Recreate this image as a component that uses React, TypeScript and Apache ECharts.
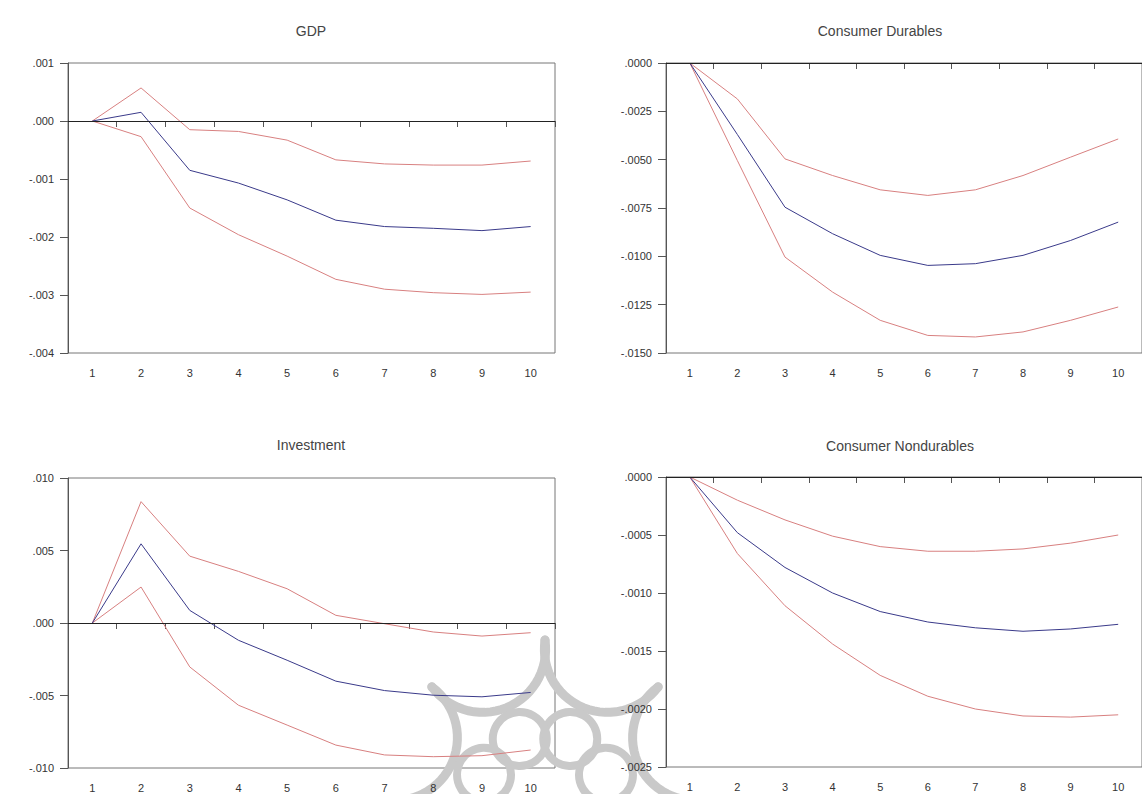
import React, { useEffect, useRef } from "react";
import * as echarts from "echarts";

const periods = ["1", "2", "3", "4", "5", "6", "7", "8", "9", "10"];

const gdpMid = [0, 0.00015, -0.00085, -0.00107, -0.00136, -0.00171, -0.00182, -0.00185, -0.00189, -0.00182];
const gdpUp = [0, 0.00057, -0.00015, -0.00018, -0.00033, -0.00067, -0.00074, -0.00076, -0.00076, -0.00069];
const gdpLo = [0, -0.00027, -0.0015, -0.00196, -0.00233, -0.00273, -0.0029, -0.00296, -0.00299, -0.00295];

const cdMid = [0, -0.0037, -0.00746, -0.00883, -0.00995, -0.01047, -0.01038, -0.00995, -0.00918, -0.00823];
const cdUp = [0, -0.00186, -0.00496, -0.00582, -0.00656, -0.00685, -0.00656, -0.00582, -0.00487, -0.00393];
const cdLo = [0, -0.00505, -0.01004, -0.01185, -0.01331, -0.01409, -0.01417, -0.01391, -0.01331, -0.01262];

const invMid = [0, 0.00546, 0.00087, -0.00119, -0.00257, -0.00401, -0.00466, -0.00498, -0.00509, -0.00479];
const invUp = [0, 0.00837, 0.00461, 0.00356, 0.00236, 0.00053, -0.00005, -0.00062, -0.0009, -0.00067];
const invLo = [0, 0.00248, -0.00303, -0.00567, -0.00704, -0.00842, -0.0091, -0.00922, -0.00915, -0.00876];

const cnMid = [0, -0.00048, -0.00078, -0.001, -0.00116, -0.00125, -0.0013, -0.00133, -0.00131, -0.00127];
const cnUp = [0, -0.0002, -0.00037, -0.00051, -0.0006, -0.00064, -0.00064, -0.00062, -0.00057, -0.0005];
const cnLo = [0, -0.00066, -0.00111, -0.00144, -0.00171, -0.00189, -0.002, -0.00206, -0.00207, -0.00205];

const titles = ["GDP", "Consumer Durables", "Investment", "Consumer Nondurables"];
const yMins = [-0.004, -0.015, -0.01, -0.0025];
const yMaxs = [0.001, 0, 0.01, 0];
const yIntervals = [0.001, 0.0025, 0.005, 0.0005];
const yDecimals = [3, 4, 3, 4];

const panels = [
  { mid: gdpMid, up: gdpUp, lo: gdpLo },
  { mid: cdMid, up: cdUp, lo: cdLo },
  { mid: invMid, up: invUp, lo: invLo },
  { mid: cnMid, up: cnUp, lo: cnLo },
];

const FONT = "Liberation Sans";

// faint background watermark (decorative sun motif)
function buildWatermark() {
  const cx = 545;
  const cy = 800;
  const spikeR = 160;
  const D = 163;
  const r = 63;
  const items: any[] = [];
  const style = { stroke: "#c9c9c9", lineWidth: 9, fill: "none", lineCap: "round" };
  for (let k = 0; k < 8; k++) {
    const th = ((-67.5 + 45 * k) * Math.PI) / 180;
    const ox = cx + D * Math.cos(th);
    const oy = cy + D * Math.sin(th);
    const s1 = th - (22.5 * Math.PI) / 180;
    const s2 = th + (22.5 * Math.PI) / 180;
    const p1 = [cx + spikeR * Math.cos(s1), cy + spikeR * Math.sin(s1)];
    const p2 = [cx + spikeR * Math.cos(s2), cy + spikeR * Math.sin(s2)];
    let a1 = Math.atan2(p1[1] - oy, p1[0] - ox);
    let a2 = Math.atan2(p2[1] - oy, p2[0] - ox);
    const mid = th + Math.PI;
    // make arc go through mid
    const norm = (a: number) => {
      while (a < mid - Math.PI) a += 2 * Math.PI;
      while (a > mid + Math.PI) a -= 2 * Math.PI;
      return a;
    };
    a1 = norm(a1);
    a2 = norm(a2);
    const lo = Math.min(a1, a2);
    const hi = Math.max(a1, a2);
    const pts: number[][] = [];
    const n = 30;
    for (let i = 0; i <= n; i++) {
      const a = lo + ((hi - lo) * i) / n;
      pts.push([ox + r * Math.cos(a), oy + r * Math.sin(a)]);
    }
    items.push({ type: "polyline", shape: { points: pts }, style, z: 0, silent: true });
    const sx = cx + 66 * Math.cos(th);
    const sy = cy + 66 * Math.sin(th);
    items.push({
      type: "circle",
      shape: { cx: sx, cy: sy, r: 27 },
      style: { stroke: "#c9c9c9", lineWidth: 8, fill: "none" },
      z: 0,
      silent: true,
    });
  }
  return items;
}

export default function App() {
  const ref = useRef<HTMLDivElement>(null);
  useEffect(() => {
    if (!ref.current) return;
    const chart = echarts.init(ref.current, null, { renderer: "svg" });
    const gridRects = [
      { left: 68, top: 63, width: 487, height: 290 },
      { left: 666, top: 63, width: 487, height: 290 },
      { left: 68, top: 478, width: 487, height: 290 },
      { left: 666, top: 477, width: 487, height: 290 },
    ];
    const titlePos = [
      [311, 24],
      [880, 24],
      [311, 438],
      [900, 439],
    ];
    const fmt = (d: number) => (v: number) => {
      const s = (Math.abs(v) < 1e-12 ? 0 : v).toFixed(d);
      return s.replace("0.", ".");
    };
    const series: any[] = [];
    panels.forEach((p, i) => {
      const common = {
        type: "line",
        xAxisIndex: i,
        yAxisIndex: i,
        symbol: "none",
        silent: true,
      };
      series.push({
        ...common,
        data: p.up,
        lineStyle: { color: "#d88080", width: 1 },
        z: 3,
      });
      series.push({
        ...common,
        data: p.lo,
        lineStyle: { color: "#d88080", width: 1 },
        z: 3,
      });
      series.push({
        ...common,
        data: p.mid,
        lineStyle: { color: "#3a3a8a", width: 1 },
        z: 4,
        markLine: {
          symbol: "none",
          silent: true,
          label: { show: false },
          lineStyle: { color: "#222", width: 1, type: "solid" },
          data: [{ yAxis: 0 }],
        },
      });
    });
    chart.setOption({
      animation: false,
      backgroundColor: "#ffffff",
      grid: gridRects.map((r) => ({
        ...r,
        show: true,
        borderColor: "#777",
        borderWidth: 1,
        backgroundColor: "transparent",
        containLabel: false,
      })),
      xAxis: gridRects.map((_, i) => ({
        type: "category",
        gridIndex: i,
        data: periods,
        boundaryGap: true,
        axisLine: { show: true, lineStyle: { color: "#555" } },
        axisTick: { show: true, length: 6, inside: false, lineStyle: { color: "#555" } },
        axisLabel: { color: "#333", fontSize: 11, fontFamily: FONT, margin: 14 },
        splitLine: { show: false },
      })),
      yAxis: gridRects.map((_, i) => ({
        type: "value",
        gridIndex: i,
        min: yMins[i],
        max: yMaxs[i],
        interval: yIntervals[i],
        axisLine: { show: true, lineStyle: { color: "#555" } },
        axisTick: { show: true, length: 8, lineStyle: { color: "#555" } },
        axisLabel: {
          color: "#333",
          fontSize: 11,
          fontFamily: FONT,
          margin: 14,
          formatter: fmt(yDecimals[i]),
        },
        splitLine: { show: false },
      })),
      graphic: [
        ...buildWatermark(),
        ...titles.map((t, i) => ({
          type: "text",
          x: titlePos[i][0],
          y: titlePos[i][1],
          silent: true,
          style: {
            text: t,
            fill: "#444",
            font: `14px "${FONT}"`,
            textAlign: "center",
            textVerticalAlign: "top",
          },
        })),
      ],
      series,
    });
    return () => chart.dispose();
  }, []);
  return (
    <div
      ref={ref}
      style={{ position: "fixed", left: 0, top: 0, width: 1142, height: 794, background: "#fff" }}
    />
  );
}
